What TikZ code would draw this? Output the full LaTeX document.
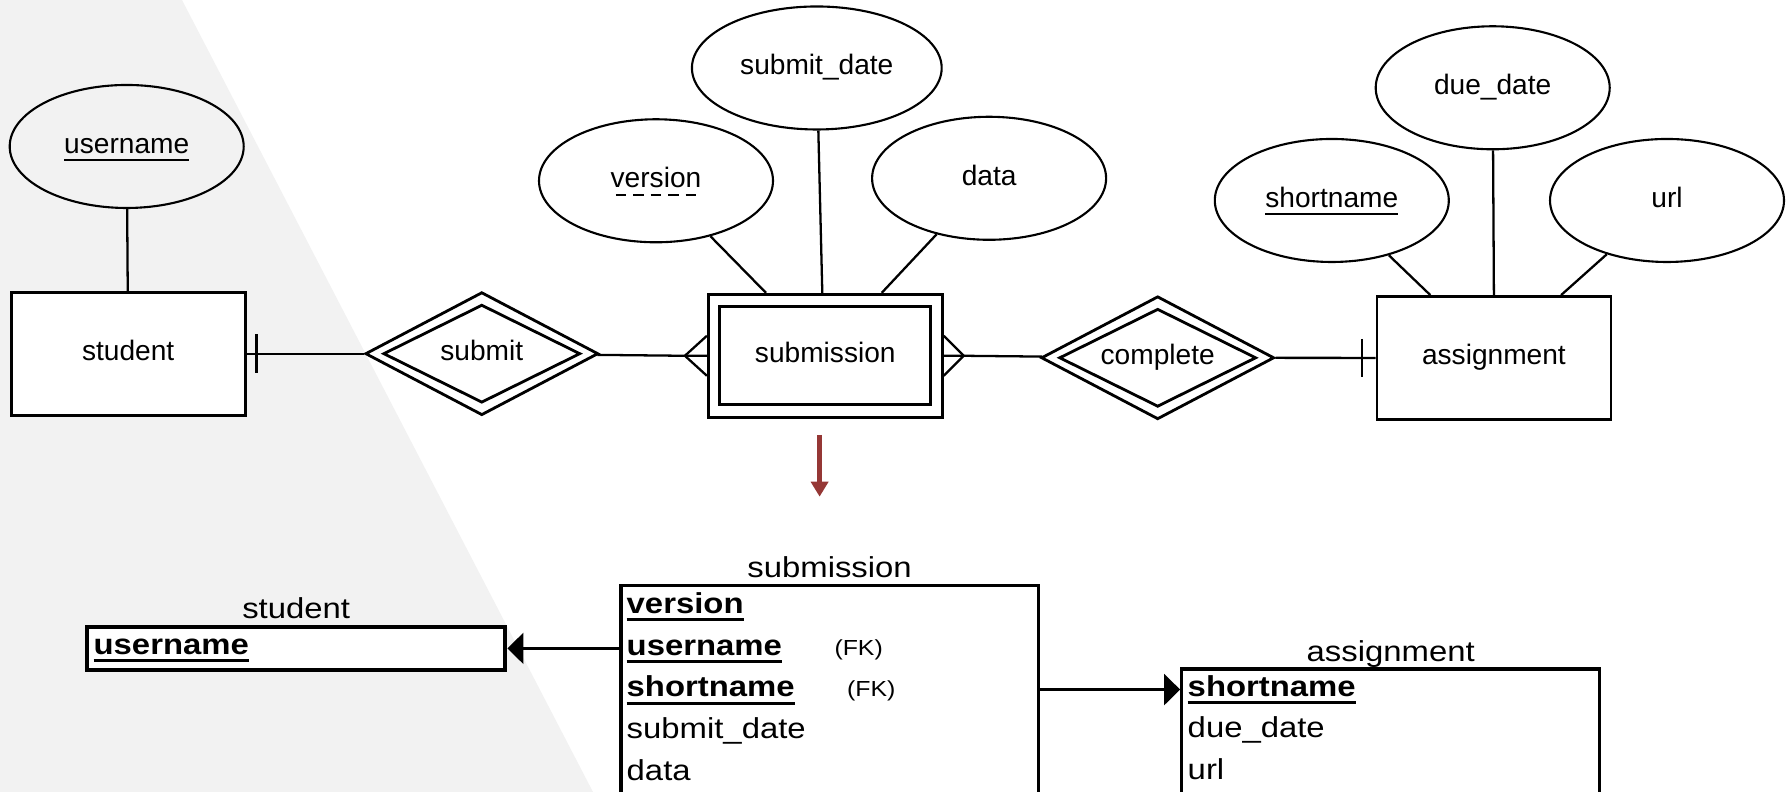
\documentclass[tikz,border=0pt]{standalone}
\usepackage{fontspec}
\setmainfont{Liberation Sans}
\newfontfamily\tabfont[FakeStretch=1.14]{Liberation Sans}
\usepackage{tikz}
\usetikzlibrary{calc,shapes.geometric,arrows.meta}

\definecolor{bggray}{HTML}{F2F2F2}
\definecolor{arrowred}{HTML}{953735}

\newsavebox\ulsave
\newcommand{\ulined}[3]{\sbox\ulsave{#3}\rlap{\rule[-#2]{\wd\ulsave}{#1}}\usebox\ulsave}
\newcommand{\pk}[1]{\ulined{0.85pt}{0.27em}{\textbf{#1}}}
\newcommand{\keyattr}[1]{\ulined{0.55pt}{0.28em}{#1}}
\newcommand{\partkey}[1]{\sbox\ulsave{#1}\rlap{\raisebox{-0.28em}{\hbox to\wd\ulsave{\cleaders\hbox to 0.62em{\hss\vrule width 0.38em height 0.6pt\hss}\hfill}}}\usebox\ulsave}

\begin{document}
\begin{tikzpicture}[
	erfont/.style={font=\fontsize{8}{10}\selectfont, text height=0.2cm, text depth=0.06cm},
	entity/.style={draw, line width=0.8pt, fill=white, minimum width=2.34cm, minimum height=1.23cm, erfont},
	entinner/.style={draw, line width=0.8pt, minimum width=2.11cm, minimum height=0.98cm, erfont},
	attr/.style={draw, ellipse, line width=0.6pt, minimum width=2.34cm, minimum height=1.23cm, erfont},
	rel/.style={draw, diamond, line width=0.8pt, fill=white, inner sep=0pt, minimum width=2.33cm, minimum height=1.23cm},
	relinner/.style={draw, diamond, line width=0.8pt, inner sep=0pt, minimum width=1.97cm, minimum height=0.98cm},
	conn/.style={line width=0.65pt},
	tabbox/.style={draw, line width=0.9pt, fill=white},
	tlabel/.style={font=\tabfont\fontsize{8.2}{10}\selectfont, inner sep=0.055cm, text depth=0pt},
	tabrow/.style={anchor=base west, inner sep=0pt, font=\tabfont\fontsize{8.2}{10}\selectfont},
	fkmark/.style={anchor=base west, inner sep=0pt, font=\tabfont\fontsize{6.2}{8}\selectfont},
	fkarrow/.style={line width=0.75pt, -{Triangle[length=0.16cm,width=0.31cm]}},
	maparrow/.style={arrowred, line width=0.05cm, -{Triangle[length=0.15cm,width=0.17cm]}}
]
	% Фон
	\useasboundingbox (0,0) rectangle (17.87,7.92);
	\clip (0,0) rectangle (17.87,7.92);
	\fill[bggray] (0,0) -- (0,7.92) -- (1.82,7.92) -- (5.93,0) -- cycle;
	% ER-диаграмма: сущности и связи
	\node[entity] (student) at (1.282,4.383) {student};
	\node[rel] (submit) at (4.818,4.383) {};
	\node[relinner, label={[erfont]center:submit}] (submit-in) at (submit) {};
	\node[entity] (submission) at (8.253,4.362) {};
	\node[entinner] (submission-in) at (submission) {submission};
	\node[rel] (complete) at (11.577,4.342) {};
	\node[relinner, label={[erfont]center:complete}] (complete-in) at (complete) {};
	\node[entity] (assignment) at (14.939,4.34) {assignment};
	% Атрибуты
	\node[attr] (uname) at (1.267,6.455) {\keyattr{username}};
	\node[attr] (version) at (6.56,6.112) {\partkey{version}};
	\node[attr] (subdate) at (8.168,7.24) {submit\_date};
	\node[attr] (data) at (9.891,6.137) {data};
	\node[attr] (shortname) at (13.318,5.915) {\keyattr{shortname}};
	\node[attr] (duedate) at (14.927,7.042) {due\_date};
	\node[attr] (url) at (16.67,5.915) {url};
	% Линии атрибутов
	\draw[conn] (uname) -- (student);
	\draw[conn] (version) -- ([xshift=-0.593cm]submission.north);
	\draw[conn] (subdate) -- ([xshift=-0.03cm]submission.north);
	\draw[conn] (data) -- ([xshift=0.564cm]submission.north);
	\draw[conn] (shortname) -- ([xshift=-0.636cm]assignment.north);
	\draw[conn] (duedate) -- (assignment.north);
	\draw[conn] (url) -- ([xshift=0.672cm]assignment.north);
	% Связи с кратностью
	\draw[conn] (student) -- (submit);
	\draw[conn] ($(student.east)+(0.1,0.195)$) -- ++(0,-0.39);
	\coordinate (crowL) at ($(submission.west)+(-0.22,0)$);
	\draw[conn] (submit) -- (crowL) -- (submission.west);
	\draw[conn] ($(submission.west)+(0,0.2)$) -- (crowL) -- ($(submission.west)+(0,-0.2)$);
	\coordinate (crowR) at ($(submission.east)+(0.2,0)$);
	\draw[conn] (submission.east) -- (crowR) -- (complete);
	\draw[conn] ($(submission.east)+(0,0.2)$) -- (crowR) -- ($(submission.east)+(0,-0.2)$);
	\draw[conn] (complete) -- (assignment);
	\draw[conn] ($(assignment.west)+(-0.134,0.19)$) -- ++(0,-0.38);
	% Стрелка преобразования
	\coordinate (mapfrom) at (8.196,3.57);
	\coordinate (mapto) at (8.196,2.953);
	\draw[maparrow] (mapfrom) -- (mapto);
	% Таблицы
	\node[tabbox, line width=1.2pt, minimum width=4.183cm, minimum height=0.433cm, label={[tlabel]above:student}] (stutab) at (2.962,1.436) {};
	\node[tabrow] (stu1) at ($(stutab.north west)+(0.08,-0.30)$) {\pk{username}};
	\node[tabbox, minimum width=4.172cm, minimum height=2.547cm, label={[tlabel]above:submission}] (subtab) at (8.296,0.7935) {};
	\foreach \txt [count=\i] in {\pk{version},\pk{username},\pk{shortname},submit\_date,data}
		\node[tabrow] (sub\i) at ($(subtab.north west)+(0.066,{-0.297-0.417*(\i-1)})$) {\txt};
	\node[fkmark] (fk2) at ($(sub2.base west)+(2.078,0)$) {(FK)};
	\node[fkmark] (fk3) at ($(sub3.base west)+(2.204,0)$) {(FK)};
	\node[tabbox, minimum width=4.18cm, minimum height=1.71cm, label={[tlabel]above:assignment}] (asgtab) at (13.907,0.375) {};
	\foreach \txt [count=\i] in {\pk{shortname},due\_date,url}
		\node[tabrow] (asg\i) at ($(asgtab.north west)+(0.069,{-0.287-0.417*(\i-1)})$) {\txt};
	% Внешние ключи
	\draw[fkarrow] (subtab.west |- stutab.east) -- (stutab.east);
	\draw[fkarrow] (subtab.east |- asg1) -- (asgtab.west |- asg1);
\end{tikzpicture}
\end{document}
